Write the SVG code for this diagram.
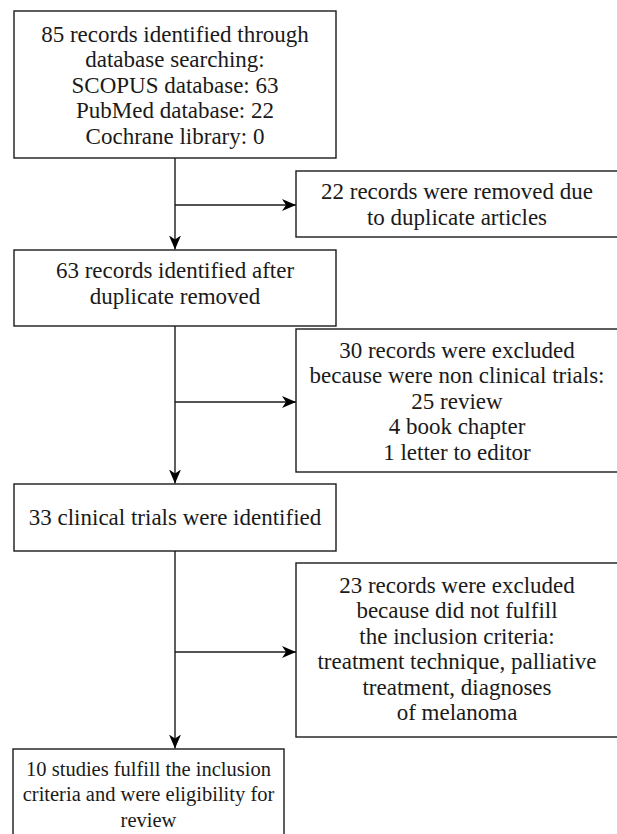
<svg xmlns="http://www.w3.org/2000/svg" width="617" height="834" viewBox="0 0 617 834">
<style>
  .box { fill: #fff; stroke: #1a1a1a; stroke-width: 1.4; }
  .lbl { font-family: 'Liberation Serif', 'Times New Roman', Times, serif; font-size: 23px; fill: #1a1a1a; text-anchor: middle; }
  .sm { font-size: 20.5px; }
  .conn { fill: none; stroke: #1a1a1a; stroke-width: 1.4; }
</style>
<defs>
  <marker id="arr" viewBox="0 0 14 12" refX="14" refY="6" markerWidth="14" markerHeight="12" markerUnits="userSpaceOnUse" orient="auto">
    <path d="M0,0 L14,6 L0,12 L4,6 Z" fill="#000"/>
  </marker>
</defs>
<rect width="617" height="834" fill="#fff"/>
<g id="connectors">
  <line class="conn" x1="175" y1="158" x2="175" y2="249.5" marker-end="url(#arr)"/>
  <line class="conn" x1="175" y1="205" x2="296" y2="205" marker-end="url(#arr)"/>
  <line class="conn" x1="175" y1="326" x2="175" y2="483.5" marker-end="url(#arr)"/>
  <line class="conn" x1="175" y1="402" x2="296" y2="402" marker-end="url(#arr)"/>
  <line class="conn" x1="175" y1="551" x2="175" y2="748.5" marker-end="url(#arr)"/>
  <line class="conn" x1="175" y1="652" x2="296" y2="652" marker-end="url(#arr)"/>
</g>
<g id="n1">
  <rect class="box" x="14" y="11" width="322" height="147"/>
  <text class="lbl" x="175" y="41.5">85 records identified through</text>
  <text class="lbl" x="175" y="67">database searching:</text>
  <text class="lbl" x="175" y="92.5">SCOPUS database: 63</text>
  <text class="lbl" x="175" y="118">PubMed database: 22</text>
  <text class="lbl" x="175" y="143.5">Cochrane library: 0</text>
</g>
<g id="n2">
  <rect class="box" x="296" y="171" width="324" height="66"/>
  <text class="lbl" x="457" y="199">22 records were removed due</text>
  <text class="lbl" x="457" y="224.5">to duplicate articles</text>
</g>
<g id="n3">
  <rect class="box" x="14" y="250" width="322" height="76"/>
  <text class="lbl" x="175" y="278">63 records identified after</text>
  <text class="lbl" x="175" y="304">duplicate removed</text>
</g>
<g id="n4">
  <rect class="box" x="296" y="329" width="324" height="143"/>
  <text class="lbl" x="457" y="357.5">30 records were excluded</text>
  <text class="lbl" x="457" y="383">because were non clinical trials:</text>
  <text class="lbl" x="457" y="408.5">25 review</text>
  <text class="lbl" x="457" y="434">4 book chapter</text>
  <text class="lbl" x="457" y="459.5">1 letter to editor</text>
</g>
<g id="n5">
  <rect class="box" x="14" y="484" width="322" height="67"/>
  <text class="lbl" x="175" y="525">33 clinical trials were identified</text>
</g>
<g id="n6">
  <rect class="box" x="296" y="563" width="324" height="174"/>
  <text class="lbl" x="457" y="592.5">23 records were excluded</text>
  <text class="lbl" x="457" y="618">because did not fulfill</text>
  <text class="lbl" x="457" y="643.5">the inclusion criteria:</text>
  <text class="lbl" x="457" y="669">treatment technique, palliative</text>
  <text class="lbl" x="457" y="694.5">treatment, diagnoses</text>
  <text class="lbl" x="457" y="720">of melanoma</text>
</g>
<g id="n7">
  <rect class="box" x="13" y="749" width="271" height="100"/>
  <text class="lbl sm" x="148.5" y="775.5">10 studies fulfill the inclusion</text>
  <text class="lbl sm" x="148.5" y="801">criteria and were eligibility for</text>
  <text class="lbl sm" x="148.5" y="826.5">review</text>
</g>
</svg>
